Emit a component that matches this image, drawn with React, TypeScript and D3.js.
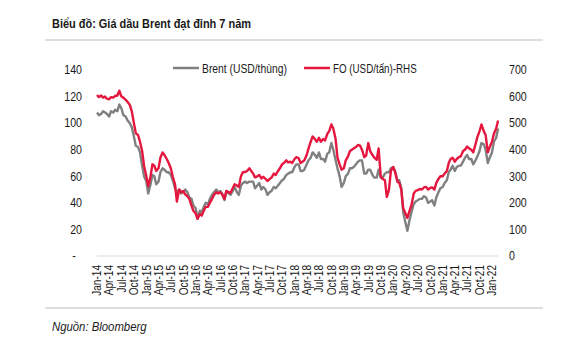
import React from "react";
import * as d3 from "d3";

// Semi-monthly observations (1st and 15th of each month), Jan 2014 – Feb 2022
const startDate = "2014-01-01";
const endDate = "2022-02-15";

const brent: number[] = [
  // 2014
  108, 106, 107, 109, 108, 107, 105, 109, 108, 110, 109, 114, 111, 106, 105, 102, 100, 97, 90, 83, 82, 78, 68, 60,
  // 2015
  56, 47, 54, 61, 60, 54, 56, 63, 66, 65, 63, 63, 61, 57, 51, 48, 50, 47, 48, 50, 48, 44, 43, 38,
  // 2016
  36, 28, 34, 33, 37, 40, 39, 43, 46, 48, 50, 48, 49, 47, 42, 49, 47, 46, 49, 52, 48, 46, 53, 55,
  // 2017
  56, 55, 56, 56, 56, 51, 53, 55, 50, 52, 50, 46, 48, 49, 52, 51, 53, 55, 57, 58, 61, 62, 63, 63,
  // 2018
  67, 69, 69, 64, 64, 65, 69, 72, 74, 78, 76, 74, 78, 73, 73, 71, 77, 78, 85, 80, 72, 66, 60, 52,
  // 2019
  55, 60, 62, 66, 66, 67, 69, 71, 72, 72, 62, 62, 65, 65, 61, 59, 59, 65, 59, 59, 62, 63, 63, 66,
  // 2020
  67, 64, 57, 57, 51, 33, 25, 19, 27, 33, 39, 41, 42, 43, 43, 45, 44, 40, 41, 42, 38, 44, 48, 51,
  // 2021
  52, 55, 57, 63, 65, 68, 64, 67, 68, 68, 71, 74, 76, 73, 73, 69, 72, 75, 79, 85, 84, 80, 70, 74,
  // 2022
  78, 86, 89, 96,
];

const fo: number[] = [
  // 2014
  606, 598, 604, 596, 600, 592, 590, 598, 596, 602, 604, 622, 600, 596, 588, 580, 568, 545, 500, 462, 455, 430, 395, 340,
  // 2015
  300, 262, 300, 345, 340, 320, 330, 370, 390, 380, 365, 350, 330, 300, 270, 205, 250, 240, 245, 232, 225, 215, 190, 170,
  // 2016
  160, 140, 158, 152, 170, 185, 185, 200, 215, 230, 240, 235, 240, 232, 215, 245, 240, 238, 255, 270, 265, 260, 300, 315,
  // 2017
  316, 320, 330, 320, 310, 296, 300, 305, 292, 298, 290, 282, 290, 295, 310, 305, 320, 330, 345, 350, 360, 352, 355, 350,
  // 2018
  365, 372, 368, 350, 355, 360, 380, 405, 430, 450, 440, 430, 445, 430, 440, 435, 460, 470, 495, 480, 440, 370, 345, 325,
  // 2019
  330, 360, 375, 395, 400, 405, 410, 418, 415, 400, 372, 378, 425, 395, 380, 370, 362, 405, 300, 290, 285, 222, 250, 320,
  // 2020
  335, 316, 280, 275, 250, 180, 160, 143, 170, 190, 235, 245, 248, 252, 250, 258, 260, 250, 256, 258, 250, 275, 290, 300,
  // 2021
  300, 310, 320, 350, 365, 370, 355, 365, 372, 375, 395, 400, 412, 405, 400, 390, 420, 448, 470, 495, 470, 455, 390, 410,
  // 2022
  430, 460, 480, 510,
];

const leftTicks = [0, 20, 40, 60, 80, 100, 120, 140];
const rightTicks = [0, 100, 200, 300, 400, 500, 600, 700];

const title = "Biểu đồ: Giá dầu Brent đạt đỉnh 7 năm";
const source = "Nguồn: Bloomberg";
const brentLabel = "Brent (USD/thùng)";
const foLabel = "FO (USD/tấn)-RHS";

const FONT = "'Liberation Sans', Arial, sans-serif";

function buildDates(): Date[] {
  const out: Date[] = [];
  const s = new Date(startDate + "T00:00:00");
  const e = new Date(endDate + "T00:00:00");
  let m = new Date(s.getFullYear(), s.getMonth(), 1);
  while (m <= e) {
    out.push(new Date(m.getFullYear(), m.getMonth(), 1));
    const mid = new Date(m.getFullYear(), m.getMonth(), 15);
    if (mid <= e) out.push(mid);
    m = new Date(m.getFullYear(), m.getMonth() + 1, 1);
  }
  return out;
}

function NarrowText({ x, y, size, sx, anchor = "start", rotate = 0, children }: any) {
  return (
    <g transform={`translate(${x},${y}) rotate(${rotate}) scale(${sx},1)`}>
      <text x={0} y={0} fontSize={size} textAnchor={anchor} fill="#1a1a1a">
        {children}
      </text>
    </g>
  );
}

// Text squeezed horizontally so that its measured width equals `len`
function FitText({ x, y, size, len, bold, italic, children }: any) {
  const ref = React.useRef<SVGTextElement>(null);
  const [sx, setSx] = React.useState(0.82);
  React.useLayoutEffect(() => {
    const el = ref.current;
    if (!el) return;
    const w = el.getBBox().width;
    if (w > 0) setSx(len / w);
  }, [len, size]);
  return (
    <g transform={`translate(${x},${y}) scale(${sx},1)`}>
      <text
        ref={ref}
        x={0}
        y={0}
        fontSize={size}
        fontWeight={bold ? "bold" : "normal"}
        fontStyle={italic ? "italic" : "normal"}
        fill="#1a1a1a"
      >
        {children}
      </text>
    </g>
  );
}

export default function App() {
  const W = 569;
  const H = 347;
  const dates = buildDates();

  const x = d3.scaleTime().domain([new Date(2014, 0, 1), new Date(2022, 0, 1)]).range([97, 492]);
  const yL = d3.scaleLinear().domain([0, 140]).range([256, 70]);
  const yR = d3.scaleLinear().domain([0, 700]).range([256, 70]);

  const brentLine = d3.line<number>().x((_, i) => x(dates[i])).y((d) => yL(d));
  const foLine = d3.line<number>().x((_, i) => x(dates[i])).y((d) => yR(d));

  const xTicks = d3.timeMonth.range(new Date(2014, 0, 1), new Date(2022, 0, 2), 3);
  const fmt = d3.timeFormat("%b-%y");

  return (
    <svg width={W} height={H} style={{ position: "absolute", left: 0, top: 0, background: "#fff" }} fontFamily={FONT}>
      <FitText x={52} y={28} size={13.5} len={199} bold>
        {title}
      </FitText>
      <line x1={45} x2={543} y1={40} y2={40} stroke="#bdbdbd" strokeWidth={1} />
      <line x1={45} x2={543} y1={308} y2={308} stroke="#bdbdbd" strokeWidth={1} />

      {/* legend */}
      <line x1={173} x2={199} y1={68} y2={68} stroke="#808080" strokeWidth={2.5} />
      <FitText x={202} y={72.5} size={12.5} len={85}>
        {brentLabel}
      </FitText>
      <line x1={304} x2={330} y1={68} y2={68} stroke="#E5173F" strokeWidth={2.5} />
      <FitText x={333} y={72.5} size={12.5} len={84}>
        {foLabel}
      </FitText>

      {/* left axis labels */}
      {leftTicks.map((t) => (
        <NarrowText key={"l" + t} x={t === 0 ? 74 : 82} y={yL(t) + 4.3} size={12.5} sx={0.85} anchor={t === 0 ? "middle" : "end"}>
          {t === 0 ? "-" : String(t)}
        </NarrowText>
      ))}

      {/* right axis labels */}
      {rightTicks.map((t) => (
        <NarrowText key={"r" + t} x={509} y={yR(t) + 4.3} size={12.5} sx={0.85}>
          {String(t)}
        </NarrowText>
      ))}

      {/* baseline */}
      <line x1={97} x2={498} y1={yL(0)} y2={yL(0)} stroke="#d9d9d9" strokeWidth={1} />

      {/* x labels */}
      {xTicks.map((d, i) => (
        <NarrowText key={"x" + i} x={x(d) + 4.3} y={265} size={12} sx={0.84} rotate={-90} anchor="end">
          {fmt(d)}
        </NarrowText>
      ))}

      {/* series */}
      <path d={brentLine(brent) || ""} fill="none" stroke="#808080" strokeWidth={2.4} strokeLinejoin="round" />
      <path d={foLine(fo) || ""} fill="none" stroke="#E5173F" strokeWidth={2.4} strokeLinejoin="round" />

      <FitText x={52} y={331} size={13} len={95} italic>
        {source}
      </FitText>
    </svg>
  );
}
